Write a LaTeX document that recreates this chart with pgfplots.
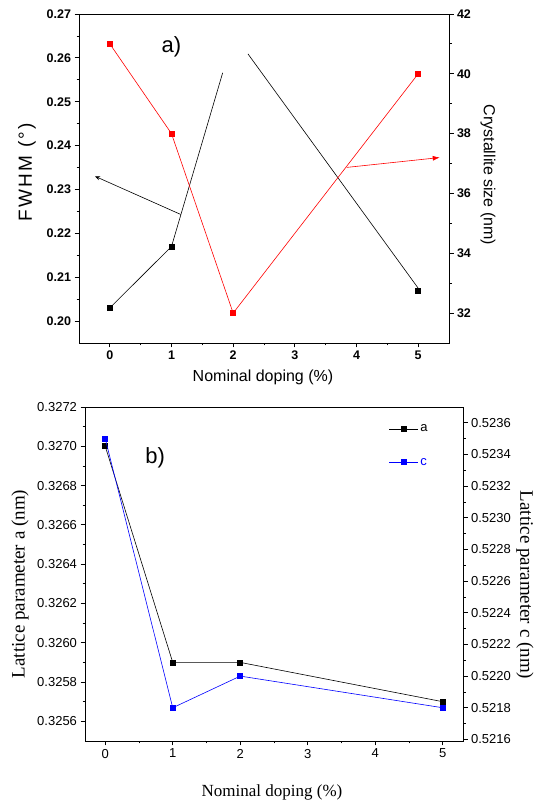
\documentclass[border=0pt]{standalone}
\usepackage{pgfplots}
\pgfplotsset{compat=1.18}
\usepackage{fontspec}
\setmainfont{Liberation Sans}
\newfontfamily\serifA{Liberation Serif}
\usetikzlibrary{arrows.meta}
\begin{document}
\begin{tikzpicture}[x=1pt,y=1pt]
\path[use as bounding box] (0,0) rectangle (536,802);

\pgfplotsset{
  common/.style={
    scale only axis,
    tick align=outside,
    axis line style={line width=0.9pt},
    major tick length=4.5pt,
    minor tick length=2.5pt,
    every tick/.style={line width=0.8pt, black},
    /pgf/number format/assume math mode=true,
  },
}

% ---------- panel a) ----------
\begin{axis}[common,
  at={(79pt,459pt)}, anchor=south west,
  width=370pt, height=329pt,
  xmin=-0.5, xmax=5.5, ymin=0.195, ymax=0.27,
  xtick={0,1,2,3,4,5}, minor x tick num=1,
  ytick={0.20,0.21,0.22,0.23,0.24,0.25,0.26,0.27}, minor y tick num=1,
  tick pos=left,
  tick label style={font=\fontsize{12.5}{14}\selectfont\bfseries},
  yticklabel style={/pgf/number format/.cd, fixed, fixed zerofill, precision=2},
]
\addplot[black, line width=0.6pt] coordinates {(0,0.203) (1,0.217) (1.83,0.2566)};
\addplot[black, line width=0.6pt] coordinates {(2.24,0.2609) (5,0.2075)};
\addplot[black, line width=0.6pt, -{Stealth[length=5pt,width=4pt]}] coordinates {(1.15,0.2243) (-0.24,0.2330)};
\addplot[black, only marks, mark=square*, mark size=2.5pt] coordinates {(0,0.203) (1,0.217) (5,0.207)};
\node[font=\fontsize{22}{24}\selectfont] at (axis cs:1.0,0.2626) {a)};
\end{axis}

\begin{axis}[common,
  at={(79pt,459pt)}, anchor=south west,
  width=370pt, height=329pt,
  xmin=-0.5, xmax=5.5, ymin=31, ymax=42,
  hide x axis,
  axis y line*=right,
  ytick={32,34,36,38,40,42}, minor y tick num=1,
  tick label style={font=\fontsize{12.5}{14}\selectfont\bfseries},
]
\addplot[red, line width=0.6pt, mark=square*, mark size=2.5pt] coordinates {(0,41) (1,38) (2,32) (5,40)};
\addplot[red, line width=0.6pt, -{Latex[length=7pt,width=5pt]}] coordinates {(3.84,36.87) (5.35,37.2)};
\end{axis}

\node[font=\fontsize{16}{18}\selectfont] at (263,425) {Nominal doping (\%)};
\node[rotate=90, font=\fontsize{19}{21}\selectfont\addfontfeatures{LetterSpace=12}] at (27,630) {FWHM (°)};
\node[rotate=-90, font=\fontsize{16}{18}\selectfont] at (488,627) {Crystallite size (nm)};

% ---------- panel b) ----------
\begin{axis}[common,
  at={(85pt,61pt)}, anchor=south west,
  width=378pt, height=334pt,
  xmin=-0.3, xmax=5.3, ymin=0.3255, ymax=0.3272,
  xtick={0,1,2,3,4,5}, minor x tick num=1,
  ytick={0.3256,0.3258,0.3260,0.3262,0.3264,0.3266,0.3268,0.3270,0.3272}, minor y tick num=1,
  tick pos=left,
  tick label style={font=\fontsize{13}{15}\selectfont},
  yticklabel style={/pgf/number format/.cd, fixed, fixed zerofill, precision=4},
  scaled y ticks=false,
]
\addplot[black, line width=0.6pt, mark=square*, mark size=2.5pt] coordinates {(0,0.3270) (1,0.3259) (2,0.3259) (5,0.3257)};
\node[font=\fontsize{22}{24}\selectfont] at (axis cs:0.74,0.32694) {b)};
\end{axis}

\begin{axis}[common,
  at={(85pt,61pt)}, anchor=south west,
  width=378pt, height=334pt,
  xmin=-0.3, xmax=5.3, ymin=0.52159, ymax=0.52370,
  hide x axis,
  axis y line*=right,
  ytick={0.5216,0.5218,0.5220,0.5222,0.5224,0.5226,0.5228,0.5230,0.5232,0.5234,0.5236}, minor y tick num=1,
  tick label style={font=\fontsize{13}{15}\selectfont},
  yticklabel style={/pgf/number format/.cd, fixed, fixed zerofill, precision=4},
  scaled y ticks=false,
  legend style={at={(rel axis cs:0.795,0.96)}, anchor=north west, draw=none, fill=none,
    font=\fontsize{13}{15}\selectfont, row sep=21pt},
  legend cell align=left,
  legend image code/.code={
    \draw[#1, mark repeat=2, mark phase=2] plot coordinates {(0pt,0pt) (14.5pt,0pt) (29pt,0pt)};
  },
]
\addlegendimage{black, line width=0.6pt, mark=square*, mark size=2.5pt}
\addlegendentry{a}
\addplot[blue, line width=0.6pt, mark=square*, mark size=2.5pt] coordinates {(0,0.52350) (1,0.5218) (2,0.5220) (5,0.5218)};
\addlegendentry{\textcolor{blue}{c}}
\end{axis}

\node[font=\serifA\fontsize{17}{19}\selectfont] at (272,10) {Nominal doping (\%)};
\node[rotate=90, font=\serifA\fontsize{19}{21}\selectfont] at (20,218) {Lattice parameter a (nm)};
\node[rotate=-90, font=\serifA\fontsize{19}{21}\selectfont] at (525,217) {Lattice parameter c (nm)};
\end{tikzpicture}
\end{document}
